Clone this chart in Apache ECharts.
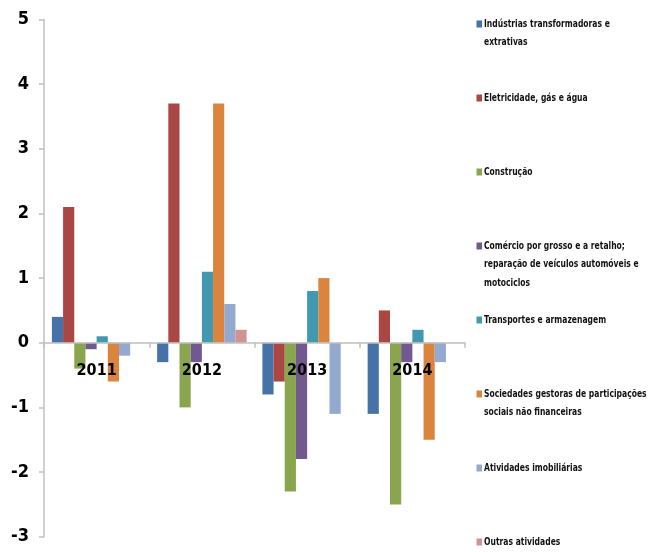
<!DOCTYPE html>
<html>
<head>
<meta charset="utf-8">
<script src="https://cdn.jsdelivr.net/npm/echarts@6/dist/echarts.min.js"></script>
<style>html,body{margin:0;padding:0;background:#fff;}#c{width:664px;height:552px;}</style>
</head>
<body>
<div id="c"></div>
<script>
var categories = ['2011', '2012', '2013', '2014'];
var seriesNames = [
  'Indústrias transformadoras e extrativas',
  'Eletricidade, gás e água',
  'Construção',
  'Comércio por grosso e a retalho; reparação de veículos automóveis e motociclos',
  'Transportes e armazenagem',
  'Sociedades gestoras de participações sociais não financeiras',
  'Atividades imobiliárias',
  'Outras atividades'
];
var legendLines = [
  ['Indústrias transformadoras e', 'extrativas'],
  ['Eletricidade, gás e água'],
  ['Construção'],
  ['Comércio por grosso e a retalho;', 'reparação de veículos automóveis e', 'motociclos'],
  ['Transportes e armazenagem'],
  ['Sociedades gestoras de participações', 'sociais não financeiras'],
  ['Atividades imobiliárias'],
  ['Outras atividades']
];
var industrias = [0.4, -0.3, -0.8, -1.1];
var eletricidade = [2.1, 3.7, -0.6, 0.5];
var construcao = [-0.4, -1.0, -2.3, -2.5];
var comercio = [-0.1, -0.3, -1.8, -0.3];
var transportes = [0.1, 1.1, 0.8, 0.2];
var sociedades = [-0.6, 3.7, 1.0, -1.5];
var imobiliarias = [-0.2, 0.6, -1.1, -0.3];
var outras = [0, 0.2, 0, 0];
var yTicks = [-3, -2, -1, 0, 1, 2, 3, 4, 5];

var allValues = [industrias, eletricidade, construcao, comercio, transportes, sociedades, imobiliarias, outras];
var colors = ['#4572A7', '#AA4643', '#89A54E', '#71588F', '#4198AF', '#DB843D', '#93A9CF', '#D19392'];
var fontFam = '"DejaVu Sans Condensed", "Liberation Sans", sans-serif';

var gridTop = 19.5, gridBottom = 15.3, H = 552;
var gridH = H - gridTop - gridBottom;
var yMin = -3, yMax = 5;
var zeroFromBottom = gridH * (0 - yMin) / (yMax - yMin);

var chart = echarts.init(document.getElementById('c'), null, {renderer: 'canvas'});

var series = allValues.map(function (vals, i) {
  return {
    name: seriesNames[i],
    type: 'bar',
    data: vals,
    barGap: '0%',
    barCategoryGap: '15%',
    itemStyle: {color: colors[i]},
    emphasis: {disabled: true}
  };
});

// legend drawn as graphic (marker + condensed text)
var graphics = [];
var legendCenter0 = 24, legendStep = 74, lineH = 18.5;
legendLines.forEach(function (lines, i) {
  var cy = legendCenter0 + i * legendStep;
  graphics.push({
    type: 'rect', x: 476.5, y: cy - 3.5,
    shape: {x: 0, y: 0, width: 5.5, height: 7},
    style: {fill: colors[i]}
  });
  lines.forEach(function (t, j) {
    graphics.push({
      type: 'text', x: 484, y: cy + j * lineH, scaleX: 0.77, scaleY: 1,
      style: {text: t, fill: '#111', font: 'bold 11px ' + fontFam, textVerticalAlign: 'middle', verticalAlign: 'middle'}
    });
  });
});

chart.setOption({
  animation: false,
  color: colors,
  grid: {left: 44, right: 199, top: gridTop, bottom: gridBottom, containLabel: false, outerBoundsMode: 'none'},
  xAxis: {
    type: 'category',
    data: categories,
    z: 10,
    offset: -zeroFromBottom,
    axisLine: {onZero: false, lineStyle: {color: '#c0c0c0', width: 1.5}},
    axisTick: {show: true, length: 5, lineStyle: {color: '#c0c0c0', width: 1.5}},
    axisLabel: {fontFamily: fontFam, fontSize: 16, fontWeight: 'bold', color: '#000', margin: 20},
    splitLine: {show: false}
  },
  yAxis: {
    type: 'value',
    min: yMin,
    max: yMax,
    interval: 1,
    axisLine: {show: true, lineStyle: {color: '#c0c0c0', width: 1.5}},
    axisTick: {show: true, length: 5, lineStyle: {color: '#c0c0c0', width: 1.5}},
    axisLabel: {
      fontFamily: fontFam, fontSize: 18, fontWeight: 'bold', color: '#000', margin: 15,
      formatter: function (v) { return yTicks.indexOf(v) >= 0 ? String(v) : ''; }
    },
    splitLine: {show: false}
  },
  graphic: graphics,
  series: series
});
</script>
</body>
</html>
